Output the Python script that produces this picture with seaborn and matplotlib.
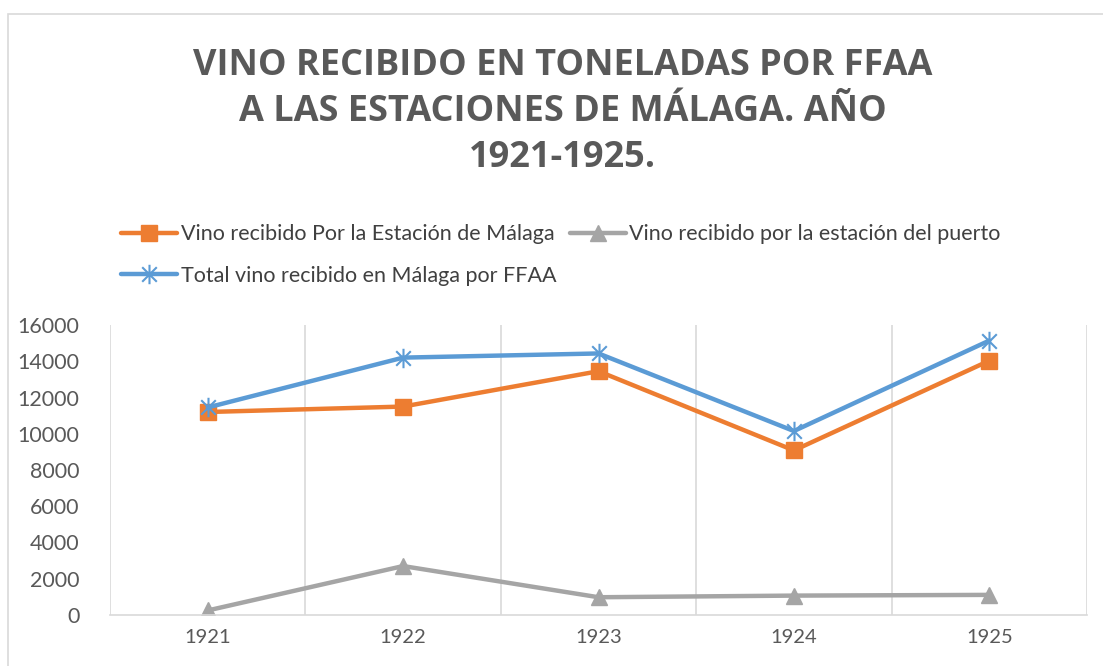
import numpy as np
import pandas as pd
import seaborn as sns
import matplotlib.pyplot as plt
from matplotlib.patches import Rectangle
from matplotlib.path import Path
from matplotlib.lines import Line2D

years = [1921, 1922, 1923, 1924, 1925]
estacion_malaga = [11200, 11500, 13450, 9080, 14030]
estacion_puerto = [250, 2700, 980, 1070, 1110]
total_malaga = [11450, 14200, 14430, 10150, 15140]

labels = ["Vino recibido Por la Estación de Málaga",
          "Vino recibido por la estación del puerto",
          "Total vino recibido en Málaga por FFAA"]
colors = ["#ED7D31", "#A5A5A5", "#5B9BD5"]

# asterisk marker like Excel: vertical bar plus an x
asterisk = Path([(0, -1), (0, 1), (-0.75, -0.75), (0.75, 0.75), (-0.75, 0.75), (0.75, -0.75)],
                [Path.MOVETO, Path.LINETO, Path.MOVETO, Path.LINETO, Path.MOVETO, Path.LINETO])
markers = ["s", "^", asterisk]
msizes = [12, 12, 14]

df = pd.DataFrame({"Year": years * 3,
                   "Value": estacion_malaga + estacion_puerto + total_malaga,
                   "Serie": [labels[0]] * 5 + [labels[1]] * 5 + [labels[2]] * 5})

sns.set_style("white")
plt.rcParams['font.family'] = ['Lato', 'DejaVu Sans']

fig = plt.figure(figsize=(11.03, 6.66), dpi=100)
ax = fig.add_axes([110 / 1103, 1 - 615 / 666, (1087 - 110) / 1103, 290 / 666])

handles = []
for lab, col, mk, ms in zip(labels, colors, markers, msizes):
    sub = df[df["Serie"] == lab]
    mew = 1.5 if mk is asterisk else 1
    sns.lineplot(data=sub, x="Year", y="Value", ax=ax, color=col, linewidth=3.2,
                 marker=mk, markersize=ms, markeredgecolor=col, markerfacecolor=col,
                 markeredgewidth=mew, legend=False)
    handles.append(Line2D([], [], color=col, linewidth=3.2, marker=mk, markersize=ms,
                          markeredgecolor=col, markerfacecolor=col, markeredgewidth=mew))

ax.set_xlim(1920.5, 1925.5)
ax.set_ylim(0, 16000)
ax.set_yticks(np.arange(0, 16001, 2000))
ax.set_xticks(years)
ax.set_xticklabels([str(y) for y in years])
ax.set_xticks(np.arange(1920.5, 1926, 1), minor=True)
ax.grid(False)
ax.grid(which="minor", axis="x", color="#D9D9D9", linewidth=1.2)
ax.tick_params(which="both", length=0)
ax.tick_params(axis="y", labelsize=15.5, labelcolor="#595959", pad=22)
ax.tick_params(axis="x", labelsize=14.5, labelcolor="#595959", pad=10)
for s in ["left", "right", "top"]:
    ax.spines[s].set_visible(False)
ax.spines["bottom"].set_color("#D9D9D9")
ax.spines["bottom"].set_linewidth(1.2)
ax.set_xlabel("")
ax.set_ylabel("")

fig.text(0.51, 0.832, "VINO RECIBIDO EN TONELADAS POR FFAA\nA LAS ESTACIONES DE MÁLAGA. AÑO\n1921-1925.",
         ha="center", va="center", fontsize=26, fontweight="bold", color="#595959",
         linespacing=1.38, family=["Open Sans", "DejaVu Sans"])

fig.legend([handles[0], handles[2], handles[1]], [labels[0], labels[2], labels[1]],
           loc="upper left", bbox_to_anchor=(102 / 1103, 1 - 205 / 666), ncol=2,
           frameon=False, fontsize=15.5, handlelength=2.6, handletextpad=0.15,
           columnspacing=0.65, labelspacing=1.0, labelcolor="#404040")

fig.patches.append(Rectangle((8 / 1103, -0.1), 1.2, 1.1 - 14 / 666, transform=fig.transFigure,
                             fill=False, edgecolor="#D9D9D9", linewidth=1.2))

fig.savefig("out.png", dpi=100)
